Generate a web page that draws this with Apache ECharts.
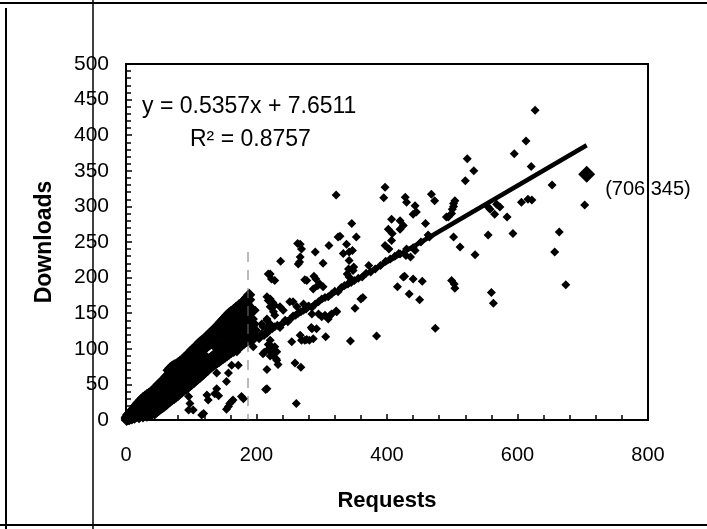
<!DOCTYPE html>
<html><head><meta charset="utf-8">
<script src="https://cdn.jsdelivr.net/npm/echarts/dist/echarts.min.js"></script>
<style>html,body{margin:0;padding:0;background:#fff}#c{width:707px;height:529px}</style>
</head><body><div id="c"></div>
<script>
// ---- Data ----
const xTickLabels = [0, 200, 400, 600, 800];
const yTickLabels = [0, 50, 100, 150, 200, 250, 300, 350, 400, 450, 500];
const xAxisTitle = 'Requests';
const yAxisTitle = 'Downloads';
const equationText = 'y = 0.5357x + 7.6511';
const r2Text = 'R\u00B2 = 0.8757';

// dense cluster near the origin: [requests, [downloads...]]
const clusterRows = [
  [1,[0,2,4]],[3,[1,3,7]],[5,[1,5,9]],[7,[3,6,11]],[9,[2,8,13]],[11,[4,9,15]],
  [13,[3,7,12,17]],[15,[5,10,15,20]],[18,[6,11,17,23]],[20,[4,9,14,20,25]],
  [23,[7,12,18,23,28]],[26,[5,10,16,21,27,31]],[29,[8,13,19,24,30,33]],
  [32,[6,11,17,23,28,35]],[35,[9,15,21,27,32,37]],[38,[8,13,19,25,31,39]],
  [41,[10,16,22,28,34,41]],[44,[9,14,20,26,32,38,44]],[47,[12,18,24,30,36,42,47]],
  [50,[14,20,26,32,38,44,50]],[53,[16,22,28,34,40,46,52]],[56,[18,24,30,36,42,48,55]],
  [59,[20,26,32,38,44,51,58]],[62,[22,28,34,40,47,54,61]],[65,[25,31,37,43,50,57,64,70]],
  [68,[27,33,39,45,52,59,66,73]],[71,[29,35,41,48,54,61,68,75]],[74,[31,37,44,50,57,63,70,77]],
  [77,[33,40,46,52,59,65,72,78]],[80,[35,42,48,55,61,68,74,80]],[83,[38,44,51,57,63,70,76,82]],
  [86,[40,46,53,59,66,72,78,84]],[89,[42,49,55,62,68,74,81,87]],[92,[44,51,57,64,70,77,83,89]],
  [95,[46,53,60,66,73,79,86,92]],[98,[49,55,62,69,75,82,88,95]],[101,[51,58,64,71,78,84,91,98]],
  [104,[53,60,67,73,80,87,94,100]],[107,[56,62,69,76,83,90,96,103]],[110,[58,65,72,79,85,92,99,106]],
  [113,[60,67,74,81,88,95,102,109]],[116,[63,70,77,84,91,98,105,111]],[119,[65,72,79,86,99,106,113]],
  [122,[68,75,82,89,102,109,116]],[125,[70,77,84,104,111,118]],[128,[73,80,86,106,113,121]],
  [131,[75,82,88,108,116,124]],[134,[77,84,90,110,118,126]],[137,[79,86,93,113,121,129]],
  [140,[81,88,100,115,124,132]],[143,[83,90,102,118,127,135]],[146,[85,92,104,120,130,138]],
  [149,[87,94,106,123,133,141]],[152,[89,96,108,117,126,136,144]],[155,[91,99,110,119,129,139,147]],
  [158,[93,101,112,122,132,142,150]],[161,[95,104,114,124,135,145,152]],[165,[97,106,117,127,138,148,155]],
  [169,[99,109,119,130,141,151,158]],[173,[102,112,123,133,144,154,161]],[177,[105,115,126,136,147,157,164]],
  [181,[108,118,129,139,150,160,167]],[185,[111,122,133,143,154,164,171]],[189,[115,126,137,148,159,169,176]],
  [193,[119,131,142,153]]
];

// points lying along the fitted line
const bandPoints = [
  [195,112],[200,118],[204,114],[208,121],[212,119],[216,124],[220,126],[224,128],[228,131],[232,133],
  [236,130],[240,136],[244,140],[248,138],[252,142],[256,146],[260,147],[264,150],[268,152],[272,154],
  [276,156],[280,160],[285,158],[290,163],[295,166],[300,170],[305,172],[310,173],[315,177],[320,181],
  [325,180],[330,186],[335,189],[340,191],[345,193],[350,196],[356,199],[362,201],[368,206],[375,208],
  [382,212],[390,217],[398,223],[405,226],[412,230],[420,233],[430,240],[440,242],[452,250],[465,257]
];

// scattered points
const scatterPoints = [
  [627,435],[613,392],[595,374],[621,356],[523,367],[533,350],[520,336],[653,330],[703,302],
  [502,304],[504,308],[499,290],[500,296],[491,285],[555,299],[568,303],[573,299],[558,296],
  [565,289],[584,285],[606,306],[616,310],[622,309],[502,257],[512,243],[535,232],[555,260],
  [593,262],[664,264],[657,236],[499,196],[503,191],[504,185],[560,179],[563,164],[674,190],[474,129],
  [322,316],[397,327],[395,312],[428,313],[430,306],[443,301],[445,292],[440,289],[468,317],[473,308],
  [459,276],[463,260],[420,280],[425,273],[420,268],[407,282],[494,285],[502,300],
  [402,268],[407,252],[403,240],[397,245],[408,262],[427,202],[440,198],[454,195],[416,187],
  [434,177],[450,169],[425,201],[418,234],[429,231],[436,229],[443,238],
  [346,276],[353,257],[325,257],[328,258],[311,245],[290,236],[338,247],[347,238],[333,234],
  [342,236],[267,247],[269,240],[267,229],[264,219],[263,248],[237,223],[302,220],[266,222],
  [342,224],[341,212],[348,210],[342,201],[349,215],[339,205],[346,196],[372,217],
  [218,205],[223,198],[228,196],[221,205],[274,197],[288,202],[297,191],[302,187],[287,184],
  [277,196],[291,198],[294,189],[363,172],[351,157],[323,152],[360,170],[322,153],
  [305,147],[310,142],[315,149],[285,128],[292,128],[284,130],
  [267,119],[274,112],[281,112],[254,110],[306,117],[344,111],[384,118],[277,113],[269,112],
  [287,114],[259,80],[268,74],[216,71],[233,78],[230,86],[225,94],[218,99],[212,95],[225,101],
  [218,106],[221,112],[228,103],[226,93],[231,84],[210,93],
  [214,43],[261,23],[180,30],[162,26],[157,19],[154,15],[139,44],[136,37],[142,34],[124,35],
  [126,28],[139,66],[157,66],[162,77],[170,96],[119,9],[96,33],[98,23],[96,14],[103,14],[116,7],
  [164,28],[159,23],[177,33],[154,54],[172,77],[216,44],[216,130],[216,122],[221,90],
  [218,168],[221,159],[226,152],[175,161],[185,152],[180,152],[162,152],[167,149],[170,142],
  [195,154],[147,135],[154,138],[162,131],[216,142],[221,170],[225,165],[228,161],[216,173],
  [190,154],[189,161],[193,156],[167,154],[183,172],[187,176],[180,163],[198,154],
  [236,159],[241,154],[251,166],[256,166],[262,159],[272,163],[279,159],[285,149],[295,149],
  [300,145],[313,147],[208,135],[216,140],[228,147],[193,126],[198,135],[190,110],[195,103],
  [211,119],[221,105],[231,96],[195,122],[200,126],[210,131],[221,135]
];

const highlightPoint = [706, 345];
const highlightLabel = '(706,345)';
const trendLine = [[0, 7.6511], [706, 385.86]];

// ---- build ----
const clusterPoints = [];
clusterRows.forEach(r => r[1].forEach(y => clusterPoints.push([r[0], y])));
const otherPoints = bandPoints.concat(scatterPoints);

const FONT = '"Liberation Sans", Arial, sans-serif';
const markStyle = {color: '#000', opacity: 1, borderWidth: 0, borderColor: '#000', shadowBlur: 0};
const chart = echarts.init(document.getElementById('c'), null, {renderer: 'canvas'});
chart.setOption({
  animation: false,
  backgroundColor: '#ffffff',
  grid: {left: 126, top: 64, width: 522, height: 356, show: true, borderColor: '#000', borderWidth: 2,
         backgroundColor: 'transparent', containLabel: false, outerBoundsMode: 'none'},
  xAxis: {
    type: 'value', min: xTickLabels[0], max: xTickLabels[xTickLabels.length - 1],
    interval: xTickLabels[1] - xTickLabels[0],
    name: xAxisTitle, nameLocation: 'middle', nameGap: 70, nameMoveOverlap: false,
    nameTextStyle: {fontFamily: FONT, fontSize: 22, fontWeight: 'bold', color: '#000'},
    axisLine: {show: true, onZero: false, lineStyle: {color: '#000', width: 2}},
    axisTick: {show: true, inside: true, length: 6, lineStyle: {color: '#000', width: 1.5}},
    minorTick: {show: true, splitNumber: 5, length: 5, lineStyle: {color: '#000', width: 1.5}},
    axisLabel: {fontFamily: FONT, fontSize: 20, color: '#000', margin: 25},
    splitLine: {show: false}, minorSplitLine: {show: false}
  },
  yAxis: {
    type: 'value', min: yTickLabels[0], max: yTickLabels[yTickLabels.length - 1],
    interval: yTickLabels[1] - yTickLabels[0],
    name: yAxisTitle, nameLocation: 'middle', nameGap: 70, nameMoveOverlap: false,
    nameTextStyle: {fontFamily: FONT, fontSize: 23, fontWeight: 'bold', color: '#000'},
    axisLine: {show: true, onZero: false, lineStyle: {color: '#000', width: 2}},
    axisTick: {show: true, inside: true, length: 6, lineStyle: {color: '#000', width: 1.5}},
    minorTick: {show: true, splitNumber: 5, length: 5, lineStyle: {color: '#000', width: 1.5}},
    axisLabel: {fontFamily: FONT, fontSize: 21, color: '#000', margin: 17},
    splitLine: {show: false}, minorSplitLine: {show: false}
  },
  series: [
    {type: 'scatter', data: clusterPoints, symbol: 'diamond', symbolSize: 12, large: false,
     progressive: 0, itemStyle: markStyle, silent: true, z: 2},
    {type: 'scatter', data: otherPoints, symbol: 'diamond', symbolSize: 9, large: false,
     progressive: 0, itemStyle: markStyle, silent: true, z: 2},
    {type: 'line', data: trendLine, symbol: 'none', silent: true, z: 3,
     lineStyle: {color: '#000', width: 4.5, opacity: 1}},
    {type: 'scatter', data: [highlightPoint], symbol: 'diamond', symbolSize: 17, z: 4, silent: true,
     itemStyle: markStyle,
     label: {show: true, position: 'right', distance: 10, offset: [0, 15], formatter: highlightLabel,
             fontFamily: FONT, fontSize: 20, color: '#000'}}
  ],
  graphic: [
    {type: 'text', left: 142, top: 95, z: 10, style: {text: equationText, font: '23px ' + FONT, fill: '#000'}},
    {type: 'text', left: 190, top: 128, z: 10, style: {text: r2Text, font: '23px ' + FONT, fill: '#000'}},
    {type: 'line', z: 20, shape: {x1: 0, y1: 3, x2: 707, y2: 3}, style: {stroke: '#000', lineWidth: 2}},
    {type: 'line', z: 20, shape: {x1: 0, y1: 525, x2: 707, y2: 525}, style: {stroke: '#000', lineWidth: 2}},
    {type: 'line', z: 20, shape: {x1: 6, y1: 8, x2: 6, y2: 529}, style: {stroke: '#000', lineWidth: 2}},
    {type: 'line', z: 20, shape: {x1: 93, y1: 0, x2: 93, y2: 529}, style: {stroke: '#000', lineWidth: 1.5}},
    {type: 'line', z: 20, shape: {x1: 248, y1: 252, x2: 248, y2: 420}, style: {stroke: '#777', lineWidth: 1, lineDash: [10, 8]}}
  ]
});
</script>
</body></html>
